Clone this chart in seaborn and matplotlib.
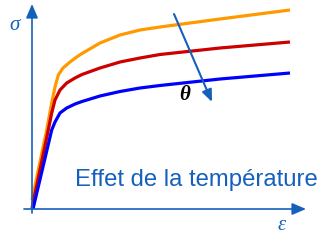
import matplotlib
matplotlib.use("Agg")
import matplotlib.pyplot as plt
import seaborn as sns
import pandas as pd

sns.set_theme(style="white")
plt.rcParams['font.family'] = ['Liberation Sans', 'DejaVu Sans']

# strain (arbitrary units) and stress for three temperatures
strain_1 = [0, 14.7, 19.7, 23, 26.3, 31, 38, 44.7, 50, 68, 88, 108, 128, 188, 258]
stress_1 = [9, 79, 106, 122, 134, 141, 147, 152, 155.5, 166, 174, 179, 182, 190, 199]
strain_2 = [0, 16.3, 19.7, 23, 28, 34.7, 43, 50, 68, 88, 108, 128, 188, 258]
stress_2 = [1, 79, 96, 109, 119, 126, 131, 134.5, 141, 147, 151, 154.5, 161, 167]
strain_3 = [1, 19.7, 23, 28, 34.7, 43, 50, 68, 88, 108, 128, 188, 258]
stress_3 = [0, 79, 87, 96, 101, 105, 107.5, 113, 117.5, 121, 123.5, 130, 136]

series = ["T1", "T2", "T3"]
colors = ["#FF9900", "#CC0000", "#0000FF"]
title = "Effet de la température"

frames = []
for name, xs, ys in zip(series, [strain_1, strain_2, strain_3],
                        [stress_1, stress_2, stress_3]):
    frames.append(pd.DataFrame({"strain": xs, "stress": ys, "T": name}))
df = pd.concat(frames, ignore_index=True)

fig = plt.figure(figsize=(3.27, 2.41), dpi=100)
ax = fig.add_axes([0, 0, 1, 1])
ax.set_xlim(-32, 295)
ax.set_ylim(-32, 209)
ax.axis("off")

axis_c = "#1560BD"
# axes arrows
ax.annotate("", xy=(0, 205), xytext=(0, -4),
            arrowprops=dict(arrowstyle="-|>,head_length=0.7,head_width=0.3", color=axis_c, lw=1.2,
                            shrinkA=0, shrinkB=0))
ax.annotate("", xy=(274, 0), xytext=(-8, 0),
            arrowprops=dict(arrowstyle="-|>,head_length=0.7,head_width=0.3", color=axis_c, lw=1.2,
                            shrinkA=0, shrinkB=0))

sns.lineplot(data=df, x="strain", y="stress", hue="T", palette=colors,
             hue_order=series, sort=False, estimator=None, lw=2.3, legend=False, ax=ax,
             solid_joinstyle="round", solid_capstyle="butt")

# temperature arrow
ax.annotate("", xy=(180, 107), xytext=(142, 195),
            arrowprops=dict(arrowstyle="-|>,head_length=0.6,head_width=0.25", color=axis_c, lw=1.5,
                            shrinkA=0, shrinkB=0))

ax.text(153, 114, "θ", fontsize=15, ha="center", va="center", color="black",
        family="Liberation Serif", style="italic", weight="bold")
ax.text(-17, 184, "σ", fontsize=15, ha="center", va="center", color=axis_c,
        family="Liberation Serif", style="italic")
ax.text(250, -17, "ε", fontsize=15, ha="center", va="center", color=axis_c,
        family="Liberation Serif", style="italic")
ax.text(286, 29, title, fontsize=17.2, ha="right", va="center", color=axis_c)

fig.savefig("out.png", dpi=100)
